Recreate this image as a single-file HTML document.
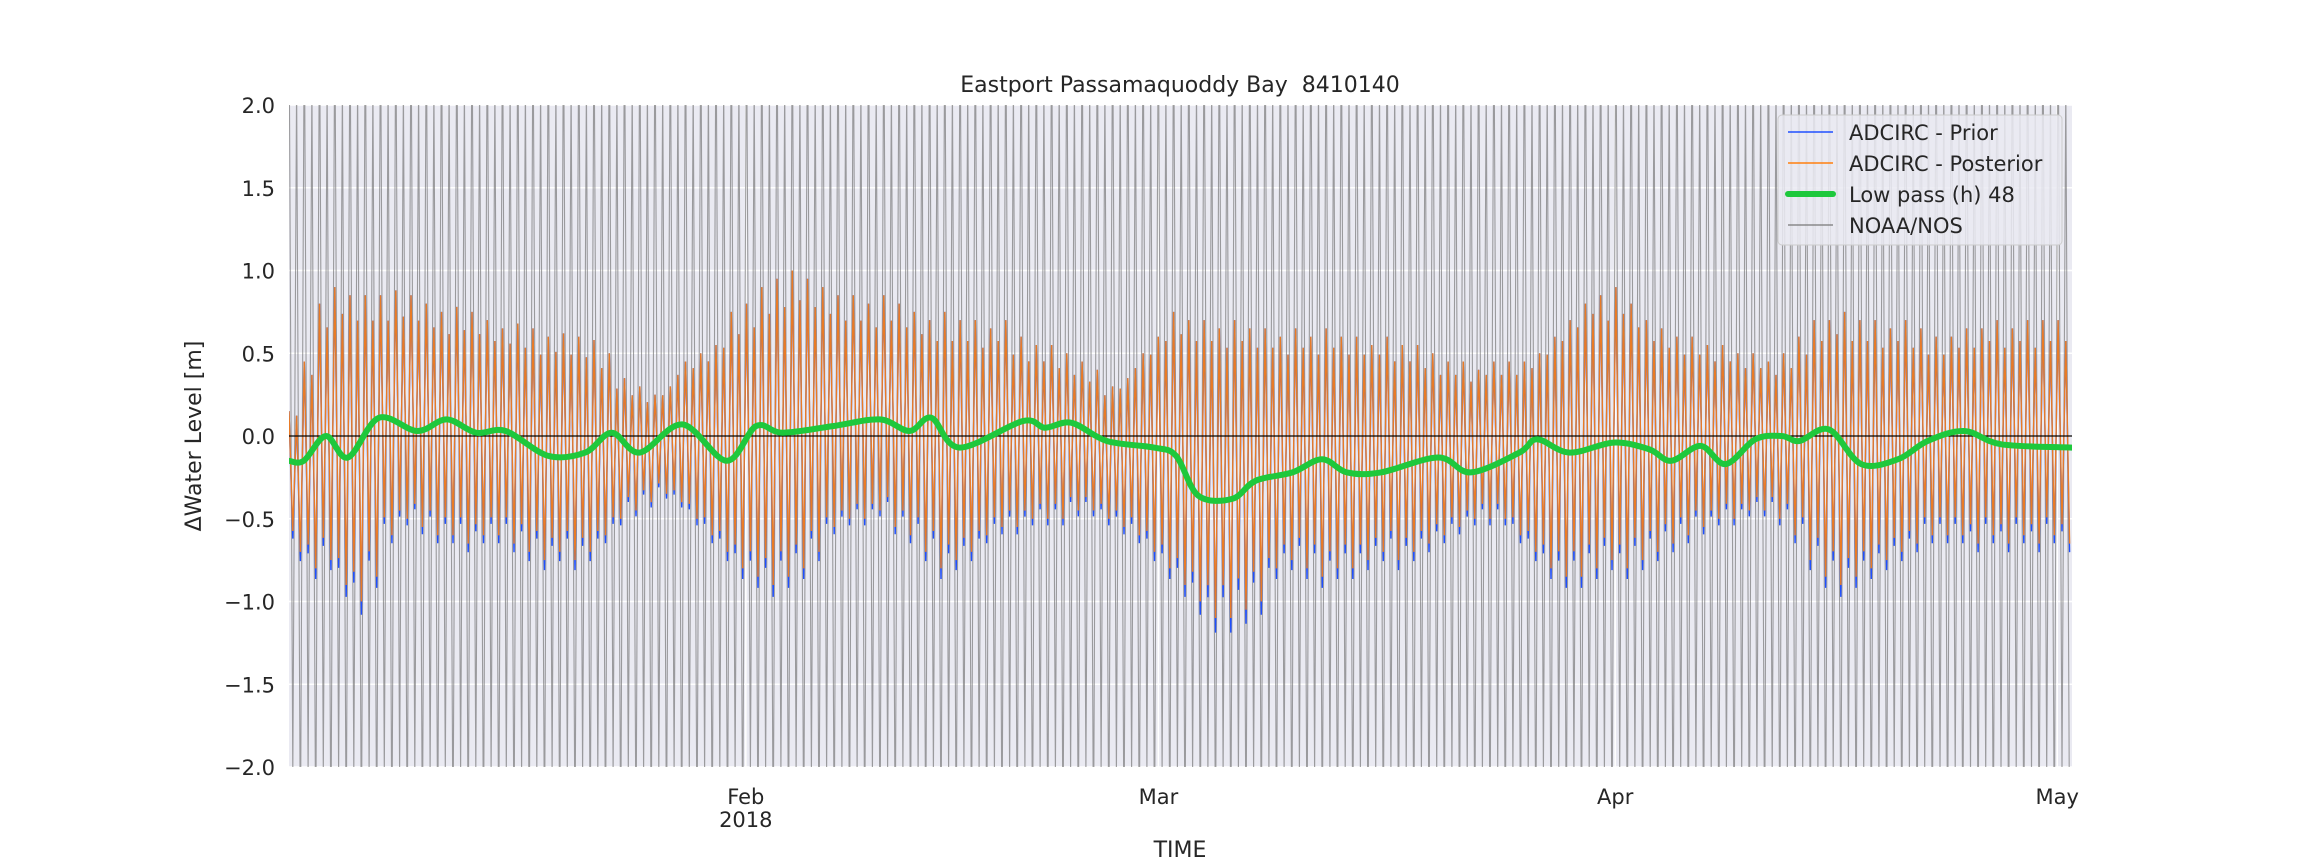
<!DOCTYPE html>
<html><head><meta charset="utf-8">
<style>
html,body{margin:0;padding:0;background:#fff;}
svg{display:block;font-family:"DejaVu Sans","Liberation Sans",sans-serif;}
</style></head>
<body>
<svg id="chart" width="2304" height="864" viewBox="0 0 2304 864" xmlns="http://www.w3.org/2000/svg">
  <rect x="289" y="105" width="1783" height="662" fill="#eaeaf2"/>
  <g id="grid"></g>
  <g id="marks"></g>
  <g id="axes"></g>
  <text x="1180" y="92" font-size="22" fill="#262626" text-anchor="middle" xml:space="preserve">Eastport Passamaquoddy Bay  8410140</text>
  <text transform="translate(201,436) rotate(-90)" font-size="22" fill="#262626" text-anchor="middle">ΔWater Level [m]</text>
  <text x="1180" y="857" font-size="22" fill="#262626" text-anchor="middle">TIME</text>
  <g>
    <rect x="1778" y="115" width="284" height="130" rx="4" fill="#eaeaf2" fill-opacity="0.85" stroke="#cccccc" stroke-width="1"/>
    <line x1="1788" y1="132" x2="1833" y2="132" stroke="#1f4fff" stroke-width="1.5"/>
    <text x="1849" y="140" font-size="21" fill="#262626">ADCIRC - Prior</text>
    <line x1="1788" y1="163" x2="1833" y2="163" stroke="#ff7f0e" stroke-width="1.5"/>
    <text x="1849" y="171" font-size="21" fill="#262626">ADCIRC - Posterior</text>
    <line x1="1788" y1="194" x2="1833" y2="194" stroke="#1ec83c" stroke-width="6" stroke-linecap="round"/>
    <text x="1849" y="202" font-size="21" fill="#262626">Low pass (h) 48</text>
    <line x1="1788" y1="225" x2="1833" y2="225" stroke="#777" stroke-width="1.2"/>
    <text x="1849" y="233" font-size="21" fill="#262626">NOAA/NOS</text>
  </g>
</svg>
<script>
const yTicks = [-2.0,-1.5,-1.0,-0.5,0.0,0.5,1.0,1.5,2.0];
const yTickLabels = ["\u22122.0","\u22121.5","\u22121.0","\u22120.5","0.0","0.5","1.0","1.5","2.0"];
const xTickDays = [31,59,90,120];
const xTickLabels = ["Feb","Mar","Apr","May"];
const posteriorHigh = [0.15,0.45,0.8,0.9,0.85,0.85,0.85,0.88,0.85,0.8,0.75,0.78,0.75,0.7,0.65,0.68,0.65,0.6,0.62,0.6,0.58,0.5,0.35,0.3,0.25,0.3,0.45,0.5,0.55,0.65,0.75,0.8,0.9,0.95,1.0,0.95,0.9,0.85,0.85,0.8,0.85,0.8,0.75,0.7,0.75,0.7,0.7,0.65,0.7,0.6,0.55,0.55,0.5,0.45,0.4,0.3,0.35,0.5,0.6,0.7,0.75,0.7,0.7,0.65,0.7,0.65,0.65,0.6,0.65,0.6,0.65,0.6,0.6,0.55,0.6,0.55,0.55,0.5,0.45,0.45,0.4,0.45,0.45,0.45,0.5,0.6,0.7,0.8,0.9,0.85,0.9,0.8,0.7,0.65,0.6,0.6,0.55,0.55,0.5,0.5,0.45,0.5,0.6,0.7,0.7,0.75,0.7,0.7,0.65,0.7,0.65,0.6,0.6,0.65,0.65,0.7,0.65,0.7,0.65,0.7,0.7];
const posteriorLow = [-0.7,-0.8,-0.75,-0.9,-1.0,-0.85,-0.6,-0.55,-0.5,-0.55,-0.6,-0.6,-0.65,-0.6,-0.6,-0.65,-0.7,-0.75,-0.7,-0.75,-0.7,-0.6,-0.5,-0.45,-0.4,-0.35,-0.4,-0.5,-0.6,-0.7,-0.8,-0.85,-0.9,-0.85,-0.8,-0.7,-0.6,-0.55,-0.5,-0.5,-0.45,-0.55,-0.6,-0.7,-0.8,-0.75,-0.7,-0.6,-0.55,-0.55,-0.5,-0.5,-0.5,-0.45,-0.45,-0.5,-0.55,-0.6,-0.7,-0.8,-0.9,-1.0,-1.1,-1.1,-1.05,-1.0,-0.9,-0.8,-0.75,-0.8,-0.85,-0.8,-0.8,-0.75,-0.7,-0.75,-0.7,-0.65,-0.6,-0.55,-0.5,-0.5,-0.5,-0.6,-0.7,-0.8,-0.85,-0.85,-0.8,-0.75,-0.8,-0.75,-0.7,-0.65,-0.6,-0.55,-0.55,-0.5,-0.5,-0.45,-0.45,-0.5,-0.6,-0.75,-0.85,-0.9,-0.85,-0.8,-0.75,-0.7,-0.65,-0.6,-0.6,-0.6,-0.65,-0.6,-0.65,-0.6,-0.65,-0.6,-0.65];
const diurnalFactor = [1.0,0.82];
const priorHighScale = [1.0];
const priorLowScale = [1.08];
const noaaHigh = [2.6];
const noaaLow = [-2.5];
const lowpassDays = [0,1,2.5,4,6.1,8.7,10.7,12.7,14.7,17.6,20.1,21.9,23.8,26.7,29.7,31.7,33.5,36.9,40.1,42.1,43.6,45.5,49.8,51.3,53.1,55.5,58.7,60.2,61.7,64,65.6,68.1,70.1,71.8,74.1,78,80.2,83.5,84.7,86.9,89.9,92.3,93.8,95.8,97.5,99.5,101.3,102.5,104.5,106.7,109.2,111.2,113.7,116.2,121];
const lowpassVals = [-0.15,-0.15,0,-0.13,0.11,0.03,0.1,0.02,0.03,-0.12,-0.1,0.02,-0.1,0.07,-0.15,0.06,0.02,0.06,0.1,0.03,0.11,-0.07,0.09,0.05,0.08,-0.03,-0.07,-0.12,-0.36,-0.38,-0.27,-0.22,-0.14,-0.22,-0.22,-0.13,-0.22,-0.1,-0.02,-0.1,-0.04,-0.08,-0.15,-0.06,-0.17,-0.02,0,-0.03,0.04,-0.17,-0.14,-0.03,0.03,-0.05,-0.07];

const X0=289, X1=2072, Y0=105, Y1=767;
const DAYS=121, TIDE=0.5175;
function xScale(d){return X0+(d/DAYS)*(X1-X0);}
function yScale(v){return Y1-((v+2)/4)*(Y1-Y0);}
const NS="http://www.w3.org/2000/svg";
function mk(tag,attrs,parent){const e=document.createElementNS(NS,tag);for(const k in attrs)e.setAttribute(k,attrs[k]);parent.appendChild(e);return e;}
const grid=document.getElementById('grid'), marks=document.getElementById('marks'), axes=document.getElementById('axes');

yTicks.forEach((t,i)=>{
  const g=mk('line',{x1:X0,x2:X1,y1:yScale(t),y2:yScale(t),stroke:'#fff','stroke-width':1.5},grid);
  
  
  const tx=mk('text',{x:X0-14,y:yScale(t)+8,'font-size':21,fill:'#262626','text-anchor':'end'},axes);
  tx.textContent=yTickLabels[i];
  
  
});
xTickDays.forEach((d,i)=>{
  const g=mk('line',{x1:xScale(d),x2:xScale(d),y1:Y0,y2:Y1,stroke:'#fff','stroke-width':1.5},grid);
  
  
  const tx=mk('text',{x:xScale(d),y:804,'font-size':21,fill:'#262626','text-anchor':'middle'},axes);
  tx.textContent=xTickLabels[i];
  
  
});
const yr=mk('text',{x:xScale(31),y:827,'font-size':21,fill:'#262626','text-anchor':'middle'},axes);
yr.textContent='2018';



function zigzag(hiFn,loFn){
  let d='';
  const last=posteriorHigh.length-1;
  for(let k=0;;k++){
    const t=k*TIDE; if(t>DAYS) break;
    const idx=Math.min(last,Math.floor(t));
    const t2=t+TIDE/2;
    const idx2=Math.min(last,Math.floor(t2));
    const f=diurnalFactor[k%2];
    d+=(k===0?'M':'L')+xScale(t).toFixed(1)+','+yScale(hiFn(idx)*f).toFixed(1);
    if(t2<=DAYS) d+='L'+xScale(t2).toFixed(1)+','+yScale(loFn(idx2)*diurnalFactor[(k+1)%2]).toFixed(1);
  }
  return d;
}
const clip=mk('clipPath',{id:'pc'},mk('defs',{},marks));
mk('rect',{x:X0,y:Y0,width:X1-X0,height:Y1-Y0},clip);
const mg=mk('g',{'clip-path':'url(#pc)'},marks);

const noaa=mk('path',{d:zigzag(()=>noaaHigh[0],()=>noaaLow[0]),fill:'none',stroke:'#6e6e6e','stroke-width':1.1,'stroke-opacity':0.65},mg);


const prior=mk('path',{d:zigzag(i=>posteriorHigh[i]*priorHighScale[0],i=>posteriorLow[i]*priorLowScale[0]),fill:'none',stroke:'#1f4fff','stroke-width':1.4},mg);


const post=mk('path',{d:zigzag(i=>posteriorHigh[i],i=>posteriorLow[i]),fill:'none',stroke:'#ff7f0e','stroke-width':1.4,'stroke-opacity':0.9},mg);



const zero=mk('line',{x1:X0,x2:X1,y1:yScale(0),y2:yScale(0),stroke:'#000','stroke-width':1.3},mg);



const pts=lowpassDays.map((d,i)=>[xScale(d),yScale(lowpassVals[i])]);
let lp='M'+pts[0][0]+','+pts[0][1];
for(let i=0;i<pts.length-1;i++){
  const p0=pts[Math.max(0,i-1)],p1=pts[i],p2=pts[i+1],p3=pts[Math.min(pts.length-1,i+2)];
  const c1=[p1[0]+(p2[0]-p0[0])/6,p1[1]+(p2[1]-p0[1])/6];
  const c2=[p2[0]-(p3[0]-p1[0])/6,p2[1]-(p3[1]-p1[1])/6];
  lp+='C'+c1[0].toFixed(1)+','+c1[1].toFixed(1)+' '+c2[0].toFixed(1)+','+c2[1].toFixed(1)+' '+p2[0].toFixed(1)+','+p2[1].toFixed(1);
}
const lpp=mk('path',{d:lp,fill:'none',stroke:'#1ec83c','stroke-width':6,'stroke-linecap':'round','stroke-linejoin':'round'},mg);


</script>
</body></html>
